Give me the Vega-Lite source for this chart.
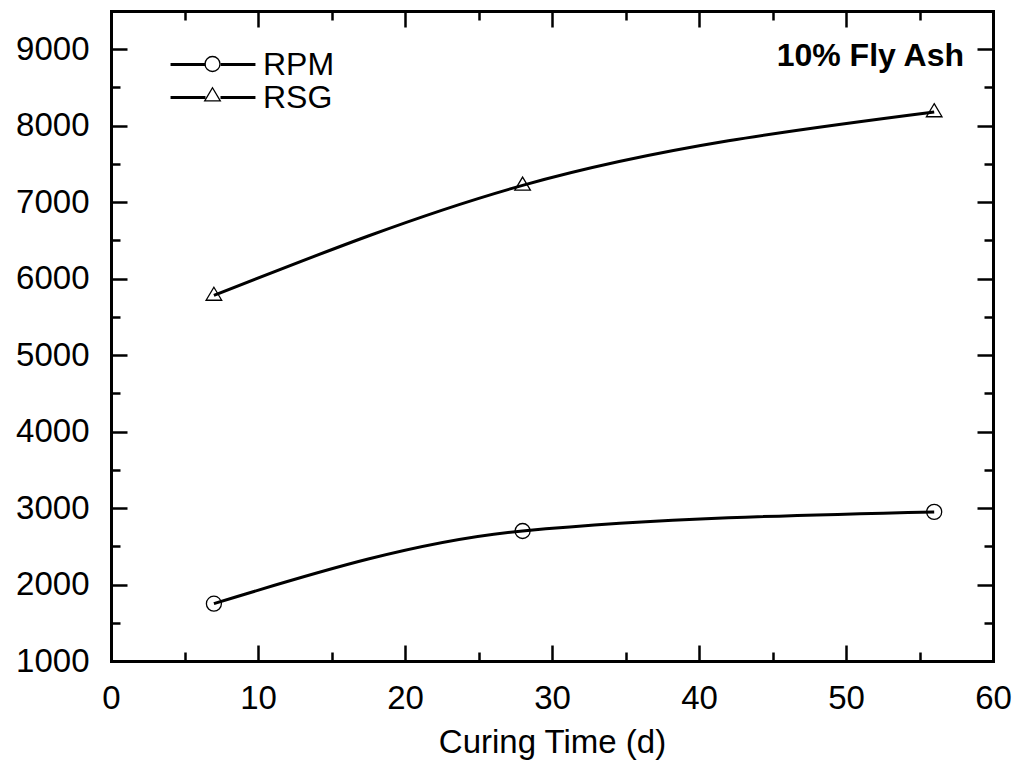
{
  "$schema": "https://vega.github.io/schema/vega-lite/v6.json",
  "width": 882,
  "height": 650,
  "autosize": {"type": "none"},
  "padding": {"left": 111, "top": 11, "right": 27, "bottom": 102},
  "background": "white",
  "title": {"text": "10% Fly Ash", "anchor": "end", "orient": "top", "frame": "group", "font": "Liberation Sans", "fontSize": 32, "fontWeight": "bold", "color": "black", "baseline": "alphabetic", "offset": 0, "dx": -29, "dy": 88},
  "config": {
    "view": {"stroke": null},
    "font": "Liberation Sans",
    "axis": {
      "domainColor": "black", "domainWidth": 3, "domainCap": "square",
      "tickColor": "black", "tickWidth": 2.5,
      "labelFont": "Liberation Sans", "labelFontSize": 33, "labelColor": "black",
      "titleFont": "Liberation Sans", "titleFontSize": 33, "titleFontWeight": "normal", "titleColor": "black",
      "grid": false, "labelFlush": false, "labelOverlap": false, "format": "d"
    }
  },
  "data": {"values": [
    {"day": 7, "value": 1750, "series": "RPM"},
    {"day": 28, "value": 2700, "series": "RPM"},
    {"day": 56, "value": 2950, "series": "RPM"},
    {"day": 7, "value": 5780, "series": "RSG"},
    {"day": 28, "value": 7220, "series": "RSG"},
    {"day": 56, "value": 8180, "series": "RSG"}
  ]},
  "resolve": {"axis": {"x": "independent", "y": "independent"}},
  "layer": [
    {
      "transform": [{"filter": "datum.series === 'RPM'"}],
      "mark": {"type": "line", "interpolate": "monotone", "strokeWidth": 3},
      "encoding": {
        "x": {"field": "day", "type": "quantitative", "scale": {"domain": [0, 60], "nice": false, "zero": false},
          "axis": {"orient": "bottom", "values": [0, 10, 20, 30, 40, 50, 60], "format": "d", "tickSize": -16, "labelPadding": 63, "labelBaseline": "alphabetic", "title": "Curing Time (d)", "titleY": 91, "titleBaseline": "alphabetic", "domain": true}},
        "y": {"field": "value", "type": "quantitative", "scale": {"domain": [1000, 9500], "nice": false, "zero": false},
          "axis": {"orient": "left", "values": [1000, 2000, 3000, 4000, 5000, 6000, 7000, 8000, 9000], "format": "d", "tickSize": -16, "labelPadding": 38, "title": null, "domain": true}},
        "stroke": {"field": "series", "type": "nominal", "scale": {"domain": ["RPM", "RSG"], "range": ["black", "black"]},
          "legend": {"orient": "none", "legendX": 85.5, "legendY": 37, "title": null, "symbolType": "M-2.83,0H-0.5M0.5,0H2.83", "symbolSize": 900, "symbolStrokeWidth": 3, "symbolStrokeColor": "black", "labelFont": "Liberation Sans", "labelFontSize": 32, "labelColor": "black", "labelOffset": 33.5, "rowPadding": 0, "padding": 0}}
      }
    },
    {
      "transform": [{"filter": "datum.series === 'RPM'"}],
      "mark": {"type": "point", "filled": false, "size": 900, "stroke": "black", "strokeWidth": 1.3, "opacity": 1},
      "encoding": {
        "x": {"field": "day", "type": "quantitative", "scale": {"domain": [0, 60], "nice": false, "zero": false},
          "axis": {"orient": "bottom", "values": [5, 15, 25, 35, 45, 55], "tickSize": -9, "labels": false, "title": null, "domain": false}},
        "y": {"field": "value", "type": "quantitative", "scale": {"domain": [1000, 9500], "nice": false, "zero": false},
          "axis": {"orient": "left", "values": [1500, 2500, 3500, 4500, 5500, 6500, 7500, 8500], "tickSize": -9, "labels": false, "title": null, "domain": false}},
        "shape": {"field": "series", "type": "nominal", "scale": {"range": ["M-0.5,0A0.5,0.5 0 1,0 0.5,0A0.5,0.5 0 1,0 -0.5,0Z", "M0,-0.55L0.52,0.32L-0.52,0.32Z"]},
          "legend": {"orient": "none", "legendX": 85.5, "legendY": 37, "title": null, "symbolSize": 900, "symbolStrokeWidth": 1.3, "symbolStrokeColor": "black", "symbolFillColor": "transparent", "labelFont": "Liberation Sans", "labelFontSize": 32, "labelOffset": 33.5, "labelExpr": "''", "rowPadding": 0, "padding": 0}}
      }
    },
    {
      "transform": [{"filter": "datum.series === 'RSG'"}],
      "mark": {"type": "line", "interpolate": "monotone", "strokeWidth": 3},
      "encoding": {
        "x": {"field": "day", "type": "quantitative", "scale": {"domain": [0, 60], "nice": false, "zero": false},
          "axis": {"orient": "top", "values": [0, 10, 20, 30, 40, 50, 60], "tickSize": -16, "labels": false, "title": null, "domain": true}},
        "y": {"field": "value", "type": "quantitative", "scale": {"domain": [1000, 9500], "nice": false, "zero": false},
          "axis": {"orient": "right", "values": [1000, 2000, 3000, 4000, 5000, 6000, 7000, 8000, 9000], "tickSize": -16, "labels": false, "title": null, "domain": true}},
        "stroke": {"field": "series", "type": "nominal", "scale": {"domain": ["RPM", "RSG"], "range": ["black", "black"]},
          "legend": {"orient": "none", "legendX": 85.5, "legendY": 37, "title": null, "symbolType": "M-2.83,0H-0.5M0.5,0H2.83", "symbolSize": 900, "symbolStrokeWidth": 3, "symbolStrokeColor": "black", "labelFont": "Liberation Sans", "labelFontSize": 32, "labelColor": "black", "labelOffset": 33.5, "rowPadding": 0, "padding": 0}}
      }
    },
    {
      "transform": [{"filter": "datum.series === 'RSG'"}],
      "mark": {"type": "point", "filled": false, "size": 900, "stroke": "black", "strokeWidth": 1.3, "opacity": 1},
      "encoding": {
        "x": {"field": "day", "type": "quantitative", "scale": {"domain": [0, 60], "nice": false, "zero": false},
          "axis": {"orient": "top", "values": [5, 15, 25, 35, 45, 55], "tickSize": -9, "labels": false, "title": null, "domain": false}},
        "y": {"field": "value", "type": "quantitative", "scale": {"domain": [1000, 9500], "nice": false, "zero": false},
          "axis": {"orient": "right", "values": [1500, 2500, 3500, 4500, 5500, 6500, 7500, 8500], "tickSize": -9, "labels": false, "title": null, "domain": false}},
        "shape": {"field": "series", "type": "nominal", "scale": {"range": ["M-0.5,0A0.5,0.5 0 1,0 0.5,0A0.5,0.5 0 1,0 -0.5,0Z", "M0,-0.55L0.52,0.32L-0.52,0.32Z"]},
          "legend": {"orient": "none", "legendX": 85.5, "legendY": 37, "title": null, "symbolSize": 900, "symbolStrokeWidth": 1.3, "symbolStrokeColor": "black", "symbolFillColor": "transparent", "labelFont": "Liberation Sans", "labelFontSize": 32, "labelOffset": 33.5, "labelExpr": "''", "rowPadding": 0, "padding": 0}}
      }
    }
  ]
}
